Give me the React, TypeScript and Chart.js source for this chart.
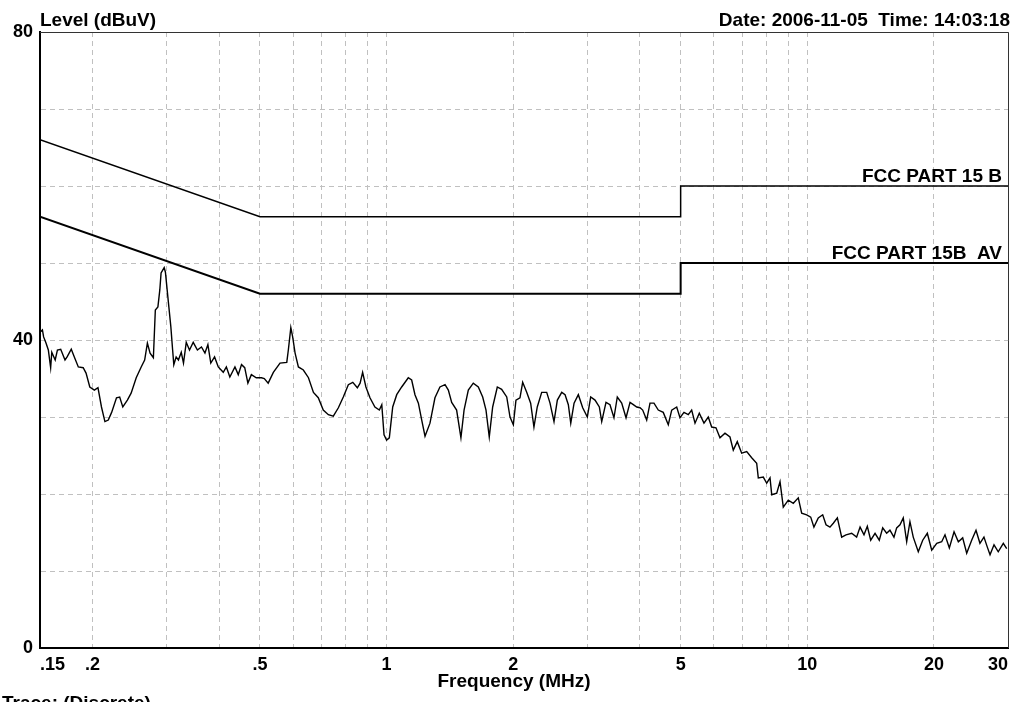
import React, { useEffect, useRef } from 'react';
import { Chart, registerables } from 'chart.js';

Chart.register(...registerables);

// Measured trace (MHz, dBuV)
const traceFreq = [
  0.150, 0.152, 0.153, 0.155, 0.157, 0.159, 0.160, 0.163, 0.165, 0.168, 0.172, 0.174, 0.178, 0.181, 0.185,
  0.190, 0.193, 0.197, 0.202, 0.206, 0.210, 0.214, 0.218, 0.222, 0.228, 0.232, 0.236, 0.242, 0.247, 0.254,
  0.261, 0.266, 0.270, 0.274, 0.279, 0.282, 0.286, 0.289, 0.291, 0.296, 0.298, 0.302, 0.307, 0.310, 0.312,
  0.316, 0.320, 0.325, 0.329, 0.334, 0.340, 0.347, 0.355, 0.363, 0.370, 0.376, 0.382, 0.390, 0.398, 0.409,
  0.416, 0.424, 0.436, 0.444, 0.452, 0.460, 0.468, 0.477, 0.490, 0.504, 0.512, 0.523, 0.538, 0.558, 0.579,
  0.584, 0.592, 0.598, 0.606, 0.617, 0.634, 0.652, 0.670, 0.688, 0.707, 0.727, 0.747, 0.768, 0.789, 0.811,
  0.831, 0.852, 0.865, 0.877, 0.893, 0.913, 0.938, 0.961, 0.974, 0.986, 1.000, 1.015, 1.034, 1.057, 1.086,
  1.126, 1.147, 1.168, 1.190, 1.212, 1.234, 1.268, 1.303, 1.339, 1.377, 1.402, 1.428, 1.467, 1.502, 1.528,
  1.564, 1.607, 1.652, 1.692, 1.723, 1.754, 1.787, 1.833, 1.877, 1.930, 1.965, 2.001, 2.030, 2.075, 2.106,
  2.153, 2.200, 2.240, 2.281, 2.337, 2.402, 2.446, 2.500, 2.546, 2.608, 2.656, 2.704, 2.740, 2.790, 2.856,
  2.925, 3.000, 3.056, 3.129, 3.204, 3.246, 3.323, 3.396, 3.471, 3.535, 3.621, 3.708, 3.790, 3.859, 3.932,
  4.003, 4.062, 4.152, 4.228, 4.321, 4.424, 4.546, 4.673, 4.761, 4.893, 4.982, 5.092, 5.213, 5.311, 5.409,
  5.537, 5.681, 5.816, 5.926, 6.067, 6.201, 6.373, 6.550, 6.669, 6.817, 6.983, 7.178, 7.377, 7.581, 7.648,
  7.860, 8.008, 8.155, 8.232, 8.460, 8.614, 8.769, 9.012, 9.262, 9.519, 9.698, 9.968, 10.19, 10.37, 10.62,
  10.88, 11.08, 11.32, 11.53, 11.79, 12.07, 12.36, 12.75, 13.10, 13.35, 13.64, 13.89, 14.15, 14.49, 14.83,
  15.11, 15.44, 15.72, 16.07, 16.31, 16.61, 16.91, 17.23, 17.54, 17.86, 18.36, 18.81, 19.29, 19.76, 20.31,
  20.87, 21.25, 21.76, 22.33, 22.86, 23.41, 23.93, 24.59, 25.18, 25.73, 26.30, 26.79, 27.19, 27.79, 28.44,
  29.24, 29.79,
];
const traceLevel = [
  41.0, 41.3, 40.4, 39.6, 38.7, 36.4, 38.4, 37.4, 38.7, 38.8, 37.4, 37.8, 38.8, 37.8, 36.5,
  36.4, 35.7, 33.9, 33.5, 33.8, 31.3, 29.4, 29.6, 30.6, 32.5, 32.6, 31.3, 32.2, 33.1, 35.1,
  36.5, 37.4, 39.6, 38.3, 37.7, 43.9, 44.3, 46.5, 48.7, 49.4, 48.8, 45.6, 41.7, 38.7, 36.8,
  37.8, 37.4, 38.4, 37.0, 39.7, 38.7, 39.7, 38.7, 39.1, 38.3, 39.4, 37.0, 37.8, 36.5, 35.8,
  36.5, 35.2, 36.5, 35.5, 36.8, 36.4, 34.4, 35.5, 35.1, 35.1, 35.0, 34.4, 35.8, 37.0, 37.1,
  38.7, 41.6, 40.4, 38.3, 36.5, 36.1, 35.1, 33.2, 32.5, 30.9, 30.3, 30.1, 31.2, 32.6, 34.2,
  34.5, 33.8, 34.4, 35.8, 33.9, 32.5, 31.3, 30.9, 31.6, 27.7, 27.0, 27.3, 31.3, 32.9, 33.9,
  35.1, 34.8, 32.9, 31.8, 29.6, 27.5, 29.2, 32.5, 33.9, 34.2, 33.5, 31.9, 30.9, 27.3, 30.9,
  33.5, 34.4, 33.9, 32.6, 30.9, 27.4, 31.3, 33.9, 33.6, 32.6, 30.0, 29.0, 32.2, 32.5, 34.5,
  33.2, 31.8, 28.7, 31.3, 33.2, 33.2, 31.8, 29.4, 32.2, 33.2, 32.9, 31.6, 29.2, 31.8, 32.9,
  31.2, 30.0, 32.6, 32.2, 31.3, 29.4, 31.9, 31.6, 29.9, 32.6, 31.8, 29.9, 31.9, 31.6, 31.3,
  31.2, 30.9, 29.6, 31.8, 31.8, 30.9, 30.6, 29.0, 30.9, 31.3, 29.9, 30.6, 30.3, 30.9, 29.2,
  30.5, 29.2, 30.0, 28.7, 28.6, 27.3, 27.9, 27.4, 25.7, 26.8, 25.3, 25.5, 24.7, 24.0, 22.1,
  22.2, 21.4, 22.1, 19.9, 20.1, 21.6, 18.3, 19.2, 18.8, 19.5, 17.5, 17.3, 17.0, 15.7, 16.9,
  17.3, 16.0, 15.7, 16.2, 16.9, 14.4, 14.7, 14.9, 14.4, 15.7, 14.7, 15.8, 14.0, 14.9, 14.0,
  15.6, 14.9, 15.3, 14.4, 15.6, 16.0, 16.9, 13.8, 16.4, 14.4, 12.5, 14.0, 14.9, 12.7, 13.6,
  13.8, 14.7, 13.0, 15.1, 13.8, 14.3, 12.3, 14.0, 15.3, 13.6, 14.4, 13.1, 12.1, 13.4, 12.5,
  13.6, 12.9,
];

// Limit lines
const qpFreq = [0.15, 0.5, 5, 5, 30];
const qpLevel = [66, 56, 56, 60, 60];
const avFreq = [0.15, 0.5, 5, 5, 30];
const avLevel = [56, 46, 46, 50, 50];

// Axes
const xGridValues = [0.15, 0.2, 0.3, 0.4, 0.5, 0.6, 0.7, 0.8, 0.9, 1, 2, 3, 4, 5, 6, 7, 8, 9, 10, 20, 30];
const xLabelValues = [0.15, 0.2, 0.5, 1, 2, 5, 10, 20, 30];
const xLabelTexts = ['.15', '.2', '.5', '1', '2', '5', '10', '20', '30'];
const yLabelValues = [0, 40, 80];

// Texts
const qpName = 'FCC PART 15 B';
const avName = 'FCC PART 15B  AV';
const yTitle = 'Level (dBuV)';
const xTitle = 'Frequency (MHz)';
const stamp = 'Date: 2006-11-05  Time: 14:03:18';
const traceNote = 'Trace: (Discrete)';

const FONT_FAMILY = '"Liberation Sans", Arial, sans-serif';

const annotPlugin = {
  id: 'annot',
  afterDraw(chart: any) {
    const { ctx, chartArea: a, scales } = chart;
    const ys = scales.y;
    ctx.save();
    ctx.strokeStyle = '#333';
    ctx.lineWidth = 1;
    ctx.setLineDash([]);
    ctx.beginPath();
    ctx.moveTo(a.left, Math.round(a.top) + 0.5);
    ctx.lineTo(Math.round(a.right) + 0.5, Math.round(a.top) + 0.5);
    ctx.lineTo(Math.round(a.right) + 0.5, a.bottom);
    ctx.stroke();

    ctx.fillStyle = '#000';
    ctx.font = `bold 19px ${FONT_FAMILY}`;
    ctx.textBaseline = 'alphabetic';
    ctx.textAlign = 'left';
    ctx.fillText(yTitle, a.left, 26);
    ctx.textAlign = 'right';
    ctx.fillText(stamp, 1010, 26);
    ctx.fillText(qpName, a.right - 6, ys.getPixelForValue(qpLevel[4]) - 4);
    ctx.fillText(avName, a.right - 6, ys.getPixelForValue(avLevel[4]) - 4);
    ctx.textAlign = 'center';
    ctx.fillText(xTitle, 514, 687);
    ctx.textAlign = 'left';
    ctx.fillText(traceNote, 2, 709);
    ctx.restore();
  },
};

export default function App() {
  const ref = useRef<HTMLCanvasElement | null>(null);

  useEffect(() => {
    document.body.style.margin = '0';
    const canvas = ref.current;
    if (!canvas) return;
    const tickFont = { family: FONT_FAMILY, size: 18, weight: 'bold' as const };
    const chart = new Chart(canvas, {
      type: 'line',
      data: {
        datasets: [
          {
            label: 'Trace',
            data: traceFreq.map((f, i) => ({ x: f, y: traceLevel[i] })),
            borderColor: '#000',
            borderWidth: 1.4,
            pointRadius: 0,
            tension: 0,
          },
          {
            label: qpName,
            data: qpFreq.map((f, i) => ({ x: f, y: qpLevel[i] })),
            borderColor: '#000',
            borderWidth: 1.5,
            pointRadius: 0,
            tension: 0,
          },
          {
            label: avName,
            data: avFreq.map((f, i) => ({ x: f, y: avLevel[i] })),
            borderColor: '#000',
            borderWidth: 2,
            pointRadius: 0,
            tension: 0,
          },
        ],
      },
      options: {
        animation: false,
        responsive: false,
        devicePixelRatio: 1,
        layout: { padding: { left: 0, top: 32, right: 22, bottom: 0 } },
        plugins: { legend: { display: false }, tooltip: { enabled: false } },
        scales: {
          x: {
            type: 'logarithmic',
            min: 0.15,
            max: 30,
            afterBuildTicks: (s: any) => {
              s.ticks = xGridValues.map((v) => ({ value: v }));
            },
            afterFit: (s: any) => {
              s.height = 54;
            },
            grid: { color: '#c0c0c0', lineWidth: 1, drawTicks: false },
            border: { color: '#000', width: 2, dash: [5, 4] },
            ticks: {
              autoSkip: false,
              maxRotation: 0,
              minRotation: 0,
              align: 'inner',
              padding: 6,
              color: '#000',
              font: tickFont,
              callback: (v: any) => {
                const idx = xLabelValues.findIndex((lv) => Math.abs(Number(v) - lv) / lv < 1e-6);
                return idx >= 0 ? xLabelTexts[idx] : '';
              },
            },
          },
          y: {
            type: 'linear',
            min: 0,
            max: 80,
            afterFit: (s: any) => {
              s.width = 40;
            },
            grid: { color: '#c0c0c0', lineWidth: 1, drawTicks: false },
            border: { color: '#000', width: 2, dash: [5, 4] },
            ticks: {
              stepSize: 10,
              padding: 7,
              color: '#000',
              font: tickFont,
              callback: (v: any) => (yLabelValues.includes(Number(v)) ? String(v) : ''),
            },
          },
        },
      },
      plugins: [annotPlugin],
    });
    return () => chart.destroy();
  }, []);

  return (
    <div style={{ width: 1030, height: 702, position: 'relative', background: '#fff' }}>
      <canvas ref={ref} width={1030} height={702} style={{ display: 'block' }} />
    </div>
  );
}
